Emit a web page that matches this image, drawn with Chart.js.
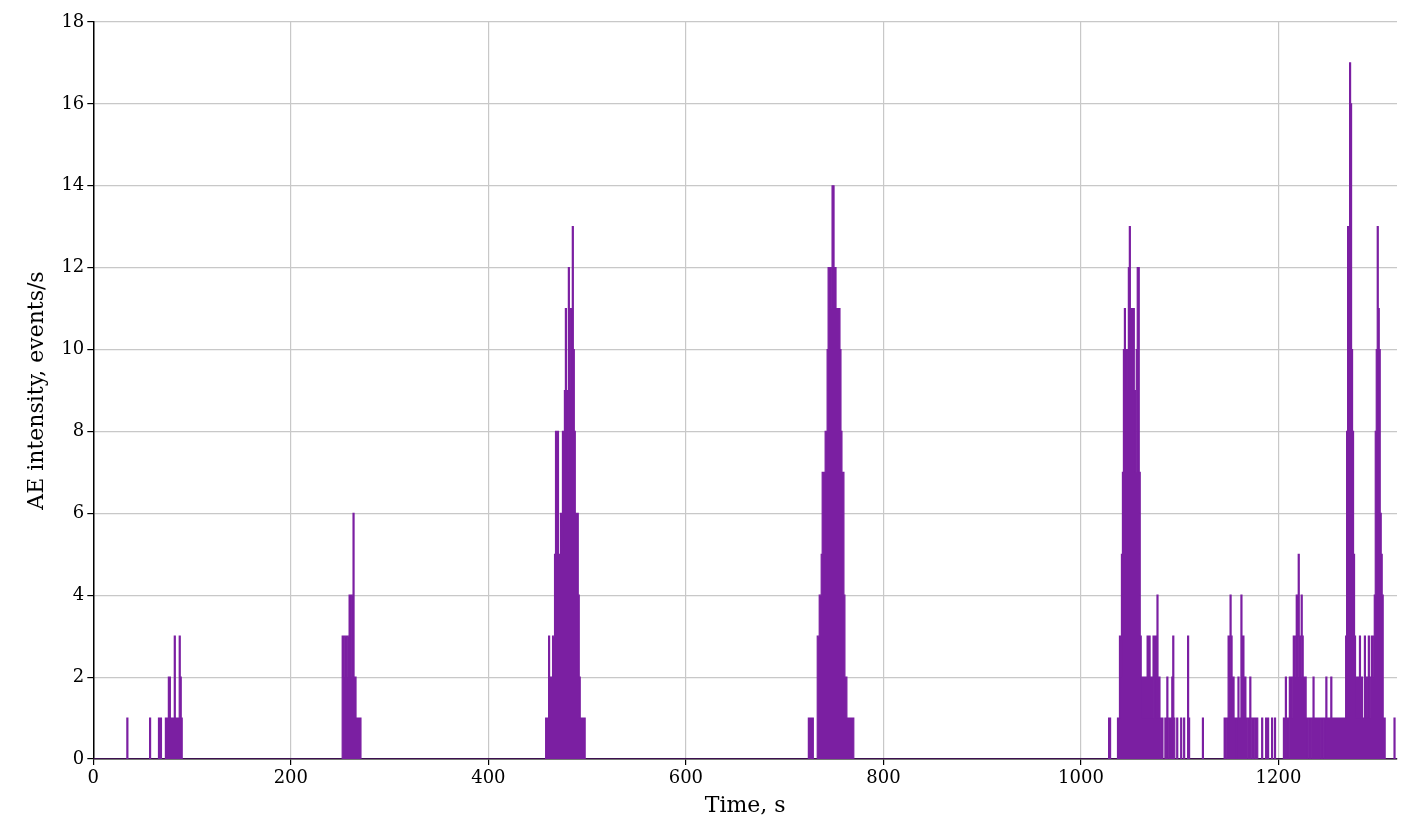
<!DOCTYPE html>
<html>
<head>
<meta charset="utf-8">
<script src="https://cdn.jsdelivr.net/npm/chart.js@4"></script>
<style>
html,body{margin:0;padding:0;background:#fff;}
#wrap{width:1411px;height:839px;}
</style>
</head>
<body>
<div id="wrap"><canvas id="grafico"></canvas></div>
<script>
"use strict";

/* bursts: start second + counts per 1 s bin */
const burst1Start = 35;
const burst1 = [1,0,0,0,0,0,0,0,0,0,0,0,0,0,0,0,0,0,0,0,0,0,0,1,0,0,0,0,0,0,0,0,1,0,1,0,0,0,0,1,0,1,2,2,1,1,1,1,3,1,1,1,1,3,2,1];
const burst2Start = 253;
const burst2 = [3,2,3,3,2,3,3,4,2,4,4,6,2,2,1,1,1,1,1];
const burst3Start = 459;
const burst3 = [1,1,1,3,2,2,2,3,3,5,8,8,8,5,5,6,5,8,8,9,11,9,7,12,9,11,11,13,10,8,6,6,6,4,2,1,1,1,1,1];
const burst4Start = 725;
const burst4 = [1,1,1,1,1,0,0,0,0,3,3,4,4,5,7,7,7,8,8,10,12,12,11,12,14,14,12,12,11,11,11,11,10,8,7,7,4,2,2,1,1,1,1,1,1,1];
const burst5Start = 1029;
const burst5 = [1,1,0,0,0,0,0,0,0,1,1,3,2,5,7,10,11,10,9,10,12,13,10,11,10,11,9,7,10,12,12,7,3,2,1,2,1,2,1,3,1,3,1,2,1,3,2,3,1,4,1,2,1,0,1,0,0,1,0,2,1,0,1,0,2,3,1,0,0,1,0,0,0,1,0,0,1,0,0,0,3,1,0,0,0,0,0,0,0,0,0,0,0,0,0,1];
const burst6Start = 1146;
const burst6 = [1,0,1,1,3,2,4,3,1,2,1,1,0,1,2,1,1,4,1,3,1,2,1,1,0,1,2,1,0,1,1,0,1,1,0,0,0,0,1,0,0,0,1,0,1,0,0,0,1,0,0,1,0,0];
const burst7Start = 1206;
const burst7 = [1,1,2,1,1,0,2,2,1,2,3,2,3,4,2,5,3,2,4,3,2,1,2,1,0,1,1,0,1,1,2,1,1,1,1,1,1,1,0,1,1,0,1,2,1,1,1,1,2,1,1,1,1,1,1,1,1,1,1,1,1,1,1,3,8,13,12,17,16,10,8,5,3,2,1,2,1,3,1,2,1,1,3,2,1,2,3,1,2,3,2,3,4,8,10,13,11,10,6,5,4,1,1,0,0,0,0,0,0,0,0,0,1];

const xMax = 1320;
const yMax = 18;

const bursts = [
    [burst1Start, burst1], [burst2Start, burst2], [burst3Start, burst3],
    [burst4Start, burst4], [burst5Start, burst5], [burst6Start, burst6], [burst7Start, burst7]
];

/* full 1 s series, zero outside the bursts */
const counts = new Array(xMax + 1).fill(0);
bursts.forEach(function(b){
    b[1].forEach(function(v, i){
        const t = b[0] + i;
        if(t <= xMax) counts[t] = v;
    });
});
const pontos = counts.map(function(v, t){ return {x: t, y: v}; });

const cor = "#7b1fa2";
Chart.defaults.font.family = "'DejaVu Serif', serif";
Chart.defaults.color = "#000";

new Chart(document.getElementById("grafico"), {
    type: "line",
    data: {
        datasets: [{
            data: pontos,
            stepped: "after",
            borderColor: cor,
            borderWidth: 1.2,
            backgroundColor: cor,
            fill: "origin",
            pointRadius: 0
        }]
    },
    options: {
        responsive: true,
        maintainAspectRatio: false,
        animation: false,
        layout: { padding: { top: 22, right: 14, left: 20, bottom: 16 } },
        plugins: { legend: { display: false }, tooltip: { enabled: false } },
        scales: {
            x: {
                type: "linear",
                min: 0,
                max: xMax,
                afterBuildTicks: function(axis){
                    axis.ticks = [0,200,400,600,800,1000,1200].map(function(v){ return {value: v}; });
                },
                ticks: { font: { size: 18 }, maxRotation: 0, callback: function(v){ return String(v); } },
                grid: { color: "#c8c8c8", lineWidth: 1.2, tickColor: "#000", tickLength: 6 },
                border: { color: "#000", width: 1.5 },
                title: { display: true, text: "Time, s", font: { size: 22 }, padding: { top: 0 } }
            },
            y: {
                min: 0,
                max: yMax,
                ticks: { stepSize: 2, font: { size: 18 } },
                grid: { color: "#c8c8c8", lineWidth: 1.2, tickColor: "#000", tickLength: 6 },
                border: { color: "#000", width: 1.5 },
                title: { display: true, text: "AE intensity, events/s", font: { size: 22 }, padding: { bottom: 8 } }
            }
        }
    }
});
</script>
</body>
</html>
